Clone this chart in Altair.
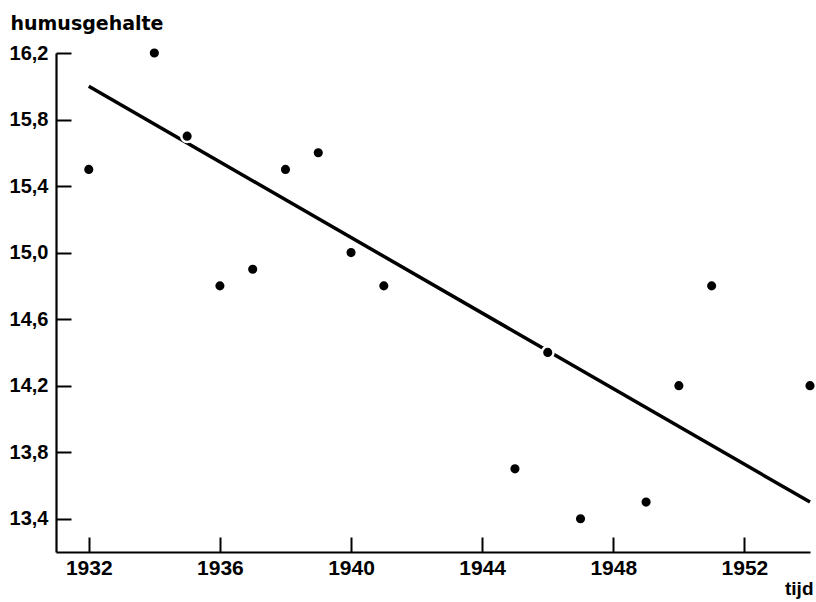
import altair as alt
import pandas as pd

# data
years = [1932, 1934, 1935, 1936, 1937, 1938, 1939, 1940, 1941, 1945, 1946, 1947, 1949, 1950, 1951, 1954]
humus = [15.5, 16.2, 15.7, 14.8, 14.9, 15.5, 15.6, 15.0, 14.8, 13.7, 14.4, 13.4, 13.5, 14.2, 14.8, 14.2]
trend_years = [1932, 1954]
trend_humus = [16.0, 13.5]
x_ticks = [1932, 1936, 1940, 1944, 1948, 1952]
y_ticks = [13.4, 13.8, 14.2, 14.6, 15.0, 15.4, 15.8, 16.2]

pts = pd.DataFrame({"jaar": years, "humus": humus})
trend = pd.DataFrame({"jaar": trend_years, "humus": trend_humus})

FONT = "Liberation Sans"
W, H = 754, 499

xscale = alt.Scale(domain=[1931, 1954], nice=False, zero=False)
yscale = alt.Scale(domain=[13.2, 16.2], nice=False, zero=False)

# main axes: domain line, labels, titles
xaxis = alt.Axis(
    values=x_ticks, format="d", ticks=False, grid=False,
    domainColor="black", domainWidth=2.2,
    labelFont=FONT, labelFontWeight="bold", labelFontSize=21, labelColor="black",
    labelPadding=5, labelFlush=False,
    title="tijd", titleFont=FONT, titleFontWeight="bold", titleFontSize=19, titleColor="black",
    titleAlign="right", titleX=757, titleY=42, titleBaseline="alphabetic",
)
yaxis = alt.Axis(
    values=y_ticks, ticks=False, grid=False,
    labelExpr="replace(format(datum.value, '.1f'), '.', ',')",
    domainColor="black", domainWidth=2.2,
    labelFont=FONT, labelFontWeight="bold", labelFontSize=20, labelColor="black",
    labelPadding=8, labelFlush=False,
    title="humusgehalte", titleFont="DejaVu Sans", titleFontWeight="bold", titleFontSize=19,
    titleColor="black", titleAngle=0, titleAlign="left", titleX=-46, titleY=-24,
    titleBaseline="alphabetic",
)

# second pair of axes, moved onto the main axes so their ticks point inward
xaxis_in = alt.Axis(
    orient="top", offset=-H, values=x_ticks, ticks=True, tickSize=15, tickWidth=2,
    tickColor="black", labels=False, domain=False, grid=False, title=None,
)
yaxis_in = alt.Axis(
    orient="right", offset=-W, values=y_ticks, ticks=True, tickSize=15, tickWidth=2,
    tickColor="black", labels=False, domain=False, grid=False, title=None,
)

line = alt.Chart(trend).mark_line(color="black", strokeWidth=3.5, strokeCap="butt").encode(
    x=alt.X("jaar:Q", scale=xscale, axis=xaxis),
    y=alt.Y("humus:Q", scale=yscale, axis=yaxis),
)

points = alt.Chart(pts).mark_point(
    filled=True, fill="black", size=135, stroke="white", strokeWidth=2.5, opacity=1
).encode(
    x=alt.X("jaar:Q", scale=xscale, axis=xaxis_in),
    y=alt.Y("humus:Q", scale=yscale, axis=yaxis_in),
)

chart = alt.layer(line, points).resolve_scale(
    x="independent", y="independent"
).properties(
    width=W, height=H,
    autosize="none",
    padding={"left": 56, "top": 53, "right": 6, "bottom": 50},
    background="white",
).configure_view(stroke=None)

chart.save("out.html", embed_options={"renderer": "svg", "actions": False})
